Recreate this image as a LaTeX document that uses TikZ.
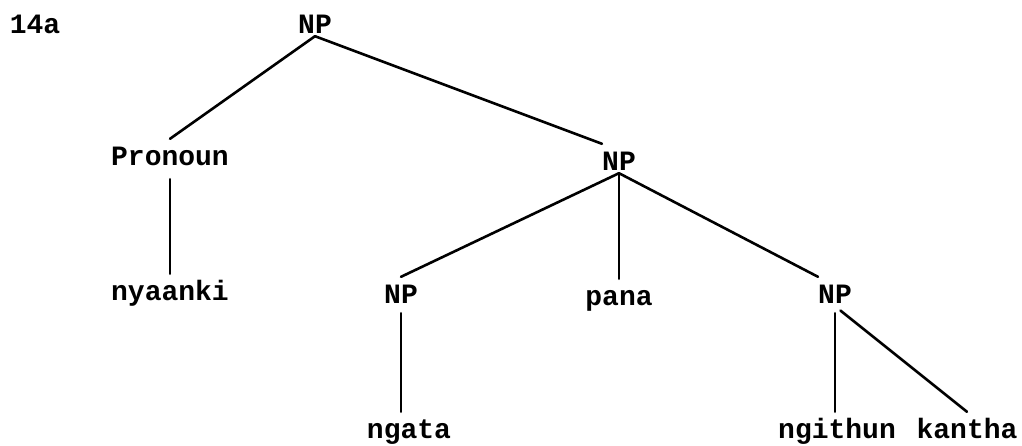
\documentclass[tikz,border=0pt]{standalone}
\usepackage{fontspec}
\setmainfont{Liberation Mono}
\begin{document}
\begin{tikzpicture}[x=1pt,y=-1pt,
  lab/.style={anchor=base,inner sep=0pt,text height=26pt,text depth=3pt,font=\fontsize{28}{30}\selectfont\bfseries},
  edge/.style={line width=2.6pt,line cap=round},
  vedge/.style={edge,shorten <=7pt}]
\useasboundingbox (0,0) rectangle (1022,445);
\node[lab] (num) at (35,33) {14a};
\node[lab] (np0) at (315,33) {NP};
\node[lab] (pro) at (170,165) {Pronoun};
\node[lab] (np1) at (619,170) {NP};
\node[lab] (nya) at (170,300) {nyaanki};
\node[lab] (np2) at (401,303) {NP};
\node[lab] (pana) at (619,305) {pana};
\node[lab] (np3) at (835,303) {NP};
\node[lab] (ngata) at (409,438) {ngata};
\node[lab] (ngi) at (837,438) {ngithun};
\node[lab] (kan) at (967,438) {kantha};
\draw[edge] (np0.south) -- (pro.north);
\draw[edge] (np0.south) -- (np1.north west);
\draw[edge,shorten <=11pt] (pro.south) -- (nya.north);
\draw[edge] (np1.south) -- (np2.north);
\draw[edge] (np1.south) -- (pana.north);
\draw[edge] (np1.south) -- (np3.north west);
\draw[vedge] (np2.south) -- (np2.south |- ngata.north);
\draw[vedge] (np3.south) -- (np3.south |- ngi.north);
\draw[vedge] (np3.south) -- (kan.north);
\end{tikzpicture}
\end{document}
